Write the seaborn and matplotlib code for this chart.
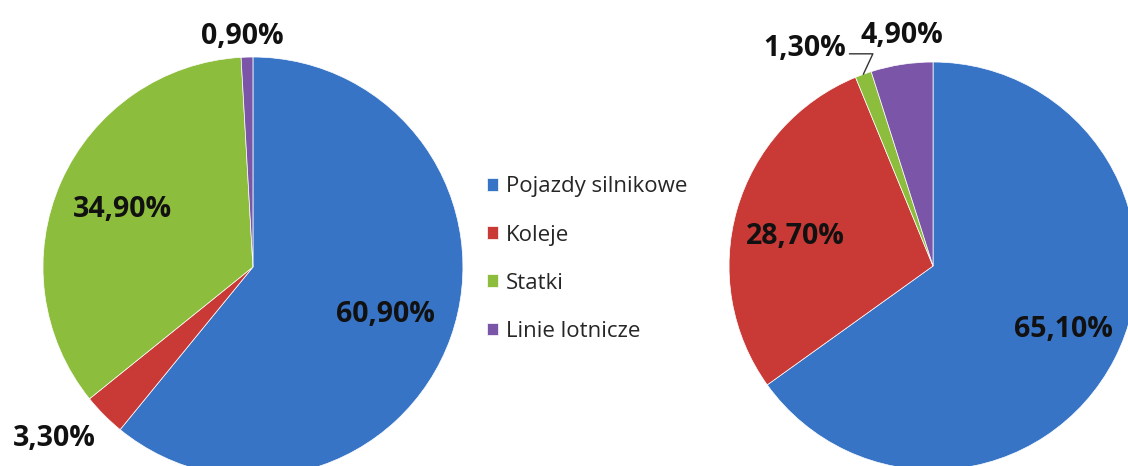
import numpy as np
import matplotlib
matplotlib.use("Agg")
import matplotlib.pyplot as plt
import seaborn as sns

sns.set_style("white")
plt.rcParams["font.family"] = ["Open Sans", "DejaVu Sans"]

# data
categories = ["Pojazdy silnikowe", "Koleje", "Statki", "Linie lotnicze"]
left_values = [60.9, 3.3, 34.9, 0.9]
right_values = [65.1, 28.7, 1.3, 4.9]
left_labels = ["60,90%", "3,30%", "34,90%", "0,90%"]
right_labels = ["65,10%", "28,70%", "1,30%", "4,90%"]

colors = sns.color_palette(["#3874c6", "#c93a36", "#8dbd3c", "#7b55a7"])

fig = plt.figure(figsize=(11.28, 4.66), dpi=100)
fig.patch.set_facecolor("white")


def draw_pie(ax, values, labels, dists, shifts, leader=None):
    wedges, _ = ax.pie(values, colors=colors, startangle=90, counterclock=False,
                       wedgeprops=dict(linewidth=0.5, edgecolor="white"))
    for i, (w, lab, d, s) in enumerate(zip(wedges, labels, dists, shifts)):
        ang = np.deg2rad((w.theta1 + w.theta2) / 2 + s)
        x, y = d * np.cos(ang), d * np.sin(ang)
        if leader is not None and i == leader:
            mid = np.deg2rad((w.theta1 + w.theta2) / 2)
            ax.annotate(lab, xy=(np.cos(mid), np.sin(mid)),
                        xytext=(x, y), ha="center", va="center",
                        fontsize=20.5, fontweight="bold", color="#111111",
                        arrowprops=dict(arrowstyle="-", color="#333333", lw=1,
                                        shrinkA=0, shrinkB=0, relpos=(1.0, 0.3),
                                        connectionstyle="angle,angleA=0,angleB=65,rad=0"),
                        annotation_clip=False)
        else:
            ax.text(x, y, lab, ha="center", va="center", fontsize=20.5,
                    fontweight="bold", color="#111111", clip_on=False)
    ax.set_xlim(-1, 1)
    ax.set_ylim(-1, 1)
    ax.set_aspect("equal")
    ax.axis("off")
    return wedges


ax1 = fig.add_axes([0.0381, -0.0236, 0.3723, 0.9013])
wedges = draw_pie(ax1, left_values, left_labels,
                  [0.67, 1.25, 0.68, 1.10], [0, -4, 0, 1])

ax2 = fig.add_axes([0.6463, -0.0086, 0.3617, 0.8755])
draw_pie(ax2, right_values, right_labels,
         [0.71, 0.69, 1.24, 1.14], [1, 4, 10.5, -1], leader=2)

fig.legend(wedges, categories, loc="center left", bbox_to_anchor=(0.414, 0.444),
           frameon=False, fontsize=16, handlelength=0.5, handleheight=0.5,
           handletextpad=0.35, labelspacing=1.22)

plt.savefig("out.png", dpi=100, facecolor="white")
plt.close()
